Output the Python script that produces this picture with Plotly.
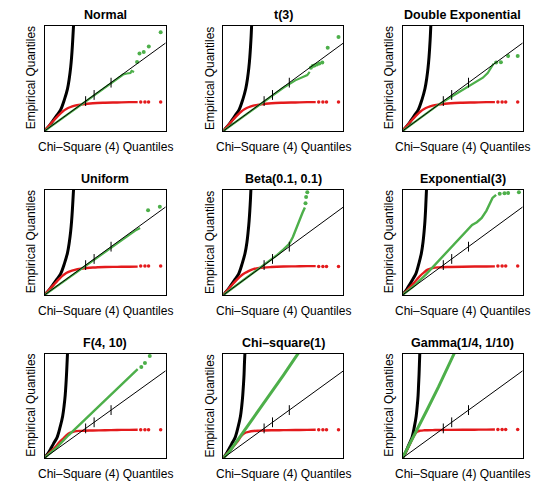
import plotly.graph_objects as go

# ---------------- data (x: Chi-square(4) quantiles, y: empirical quantiles) ----------------
TITLES = ["Normal", "t(3)", "Double Exponential", "Uniform", "Beta(0.1, 0.1)",
          "Exponential(3)", "F(4, 10)", "Chi–square(1)", "Gamma(1/4, 1/10)"]
XLABEL = "Chi–Square (4) Quantiles"
YLABEL = "Empirical Quantiles"

LINE_X = [0, 10.5]
TICK_X = [3.4, 4.1, 5.5]

BLACK_Y = [0, 0.6, 1.2, 1.8, 2.4, 3.6, 4.8, 6.0, 7.2, 8.4, 9.6, 10.8, 12.0, 12.6]
black_normal = [0, 0.4, 0.72, 1.03, 1.33, 1.65, 1.9, 2.05, 2.16, 2.24, 2.3, 2.35, 2.4, 2.42]
black_t3 = [0, 0.39, 0.71, 1.01, 1.31, 1.63, 1.87, 2.02, 2.13, 2.21, 2.27, 2.32, 2.36, 2.38]
black_dexp = [0, 0.39, 0.71, 1.01, 1.31, 1.63, 1.87, 2.02, 2.13, 2.21, 2.27, 2.32, 2.36, 2.38]
black_unif = [0, 0.4, 0.72, 1.03, 1.33, 1.65, 1.9, 2.05, 2.16, 2.24, 2.3, 2.35, 2.4, 2.42]
black_beta = [0, 0.38, 0.69, 0.99, 1.28, 1.58, 1.82, 1.97, 2.07, 2.15, 2.21, 2.26, 2.3, 2.32]
black_exp = [0, 0.33, 0.6, 0.86, 1.11, 1.37, 1.58, 1.71, 1.8, 1.87, 1.92, 1.96, 2.0, 2.02]
black_f = [0, 0.32, 0.57, 0.81, 1.05, 1.3, 1.5, 1.62, 1.71, 1.77, 1.82, 1.86, 1.9, 1.91]
black_chisq = [0, 0.3, 0.54, 0.77, 1.0, 1.24, 1.43, 1.54, 1.62, 1.68, 1.73, 1.76, 1.8, 1.82]
black_gamma = [0, 0.24, 0.43, 0.62, 0.8, 0.99, 1.14, 1.23, 1.3, 1.34, 1.38, 1.41, 1.44, 1.45]

RED_X = [0, 0.3, 0.6, 0.9, 1.2, 1.5, 1.8, 2.1, 2.5, 3.0, 4.0, 5.0, 6.0, 7.0, 7.7]
red_normal = [0, 0.48, 0.96, 1.4, 1.84, 2.22, 2.5, 2.7, 2.88, 3.0, 3.16, 3.22, 3.25, 3.28, 3.29]
red_t3 = [0, 0.48, 0.96, 1.4, 1.84, 2.22, 2.5, 2.7, 2.88, 3.0, 3.16, 3.22, 3.25, 3.28, 3.29]
red_dexp = [0, 0.48, 0.96, 1.4, 1.84, 2.22, 2.5, 2.7, 2.88, 3.0, 3.16, 3.22, 3.25, 3.28, 3.29]
red_unif = [0, 0.46, 0.92, 1.36, 1.8, 2.2, 2.5, 2.7, 2.86, 2.98, 3.12, 3.18, 3.2, 3.22, 3.23]
red_beta = [0, 0.48, 0.96, 1.4, 1.84, 2.22, 2.5, 2.72, 2.94, 3.07, 3.18, 3.24, 3.26, 3.28, 3.29]
red_exp = [0, 0.43, 0.86, 1.3, 1.76, 2.22, 2.58, 2.88, 3.06, 3.14, 3.19, 3.22, 3.24, 3.25, 3.26]
red_f = [0, 0.43, 0.84, 1.26, 1.78, 2.16, 2.58, 2.88, 3.06, 3.12, 3.16, 3.19, 3.22, 3.23, 3.24]
red_chisq = [0, 0.48, 0.9, 1.44, 1.92, 2.52, 2.88, 3.0, 3.1, 3.14, 3.18, 3.2, 3.22, 3.23, 3.24]
red_gamma = [0, 0.72, 1.56, 2.4, 3.0, 3.14, 3.18, 3.19, 3.2, 3.22, 3.23, 3.24, 3.25, 3.26, 3.28]

RED_TAIL_X = [7.95, 8.3, 8.6, 9.6]
RED_TAIL_Y = [3.3, 3.3, 3.3, 3.3, 3.25, 3.3, 3.25, 3.25, 3.28]

# green series: dense part + sparse upper tail
green_normal_x = [0, 1, 2, 3, 4, 5, 6, 6.5, 6.8, 7.1, 7.2, 7.4]
green_normal_y = [0, 1.0, 2.0, 3.0, 4.0, 4.92, 6.0, 6.42, 6.54, 6.6, 6.84, 6.72]
green_normal_tx = [7.65, 7.85, 8.2, 8.62, 9.6]
green_normal_ty = [7.86, 8.82, 9.0, 9.6, 11.23]

green_t3_x = [0, 1, 2, 3, 4, 5, 6, 6.5, 7.0, 7.2]
green_t3_y = [0, 1.0, 2.0, 3.0, 3.96, 4.92, 5.76, 6.06, 6.36, 6.72]
green_t3_tx = [7.3, 7.45, 7.6, 7.8, 8.0, 8.25, 8.7, 9.6]
green_t3_ty = [7.2, 7.38, 7.44, 7.56, 7.68, 7.8, 9.48, 10.68]

green_dexp_x = [0, 1, 2, 3, 4, 5, 5.6, 6.2, 6.7, 7.1, 7.4, 7.6]
green_dexp_y = [0, 1.0, 2.0, 3.0, 3.84, 4.68, 5.16, 5.64, 6.06, 6.6, 7.2, 7.68]
green_dexp_tx = [7.8, 8.2, 8.8, 9.6]
green_dexp_ty = [7.8, 7.82, 8.52, 8.52]

green_unif_x = [0, 2, 4, 5, 6, 7, 7.5, 7.9]
green_unif_y = [0, 1.97, 3.94, 4.92, 5.88, 6.84, 7.32, 7.62]
green_unif_tx = [8.56, 9.53]
green_unif_ty = [9.65, 10.03]

green_beta_x = [0, 1, 2, 3, 4, 4.5, 5, 5.5, 5.8, 6.1, 6.4, 6.6, 6.8]
green_beta_y = [0, 1.0, 2.0, 3.0, 4.02, 4.56, 5.16, 5.82, 6.6, 7.68, 8.76, 9.36, 9.96]
green_beta_tx = [6.85, 6.9, 7.0]
green_beta_ty = [10.44, 11.16, 11.7]

green_exp_x = [0, 1, 2, 3, 4, 5, 5.8, 6.2, 6.6, 7.0, 7.3, 7.5, 7.8]
green_exp_y = [0, 1.08, 2.4, 3.84, 5.28, 6.72, 7.98, 8.28, 8.76, 9.6, 10.44, 11.04, 11.4]
green_exp_tx = [8.1, 8.5, 8.8, 9.7]
green_exp_ty = [11.52, 11.58, 11.6, 11.7]

green_f_x = [0, 1, 2, 3, 4, 5, 6, 7, 7.4, 7.7]
green_f_y = [0, 1.2, 2.64, 3.96, 5.28, 6.6, 7.86, 9.24, 9.78, 10.2]
green_f_tx = [8.0, 8.3, 8.7]
green_f_ty = [10.44, 10.92, 11.7]

green_chisq_x = [0, 0.5, 1, 2, 3, 4, 5, 6, 6.3]
green_chisq_y = [0, 0.72, 1.68, 3.6, 5.52, 7.44, 9.48, 11.52, 12.12]
green_chisq_tx = []
green_chisq_ty = []

green_gamma_x = [0, 1, 2, 3, 4, 4.35]
green_gamma_y = [0, 2.64, 5.4, 8.16, 11.04, 12.12]
green_gamma_tx = []
green_gamma_ty = []

BLACKS = [black_normal, black_t3, black_dexp, black_unif, black_beta, black_exp, black_f, black_chisq, black_gamma]
REDS = [red_normal, red_t3, red_dexp, red_unif, red_beta, red_exp, red_f, red_chisq, red_gamma]
GREENS = [
    (green_normal_x, green_normal_y, green_normal_tx, green_normal_ty),
    (green_t3_x, green_t3_y, green_t3_tx, green_t3_ty),
    (green_dexp_x, green_dexp_y, green_dexp_tx, green_dexp_ty),
    (green_unif_x, green_unif_y, green_unif_tx, green_unif_ty),
    (green_beta_x, green_beta_y, green_beta_tx, green_beta_ty),
    (green_exp_x, green_exp_y, green_exp_tx, green_exp_ty),
    (green_f_x, green_f_y, green_f_tx, green_f_ty),
    (green_chisq_x, green_chisq_y, green_chisq_tx, green_chisq_ty),
    (green_gamma_x, green_gamma_y, green_gamma_tx, green_gamma_ty),
]
GREEN_WIDTH = [2.2, 2.2, 2.2, 2.2, 2.4, 2.4, 2.4, 3.0, 3.0]

# ---------------- layout ----------------
W, H = 534, 483
COL_PX = [(44.5, 165.5), (223.3, 343.3), (402.5, 522.5)]
ROW_PX = [(25.5, 131), (189.5, 295), (353.5, 458)]
RED = "#E41A1C"
GREEN = "#4DAF4A"
FONT = "Liberation Sans, Arial, Helvetica, sans-serif"

fig = go.Figure()
annotations = []
layout = dict(width=W, height=H, margin=dict(l=0, r=0, t=0, b=0),
              paper_bgcolor="white", plot_bgcolor="white", showlegend=False,
              font=dict(family=FONT, color="black"))

for i in range(9):
    r, c = divmod(i, 3)
    sfx = "" if i == 0 else str(i + 1)
    xa, ya = "x" + sfx, "y" + sfx
    x0, x1 = COL_PX[c]
    y0, y1 = ROW_PX[r]
    axis_common = dict(showline=True, mirror=True, linecolor="black", linewidth=1,
                       showticklabels=False, ticks="", showgrid=False, zeroline=False,
                       fixedrange=True)
    layout["xaxis" + sfx] = dict(domain=[x0 / W, x1 / W], range=[0, 10], anchor=ya, **axis_common)
    layout["yaxis" + sfx] = dict(domain=[1 - y1 / H, 1 - y0 / H], range=[0, 12], anchor=xa, **axis_common)

    # black curve
    fig.add_trace(go.Scatter(x=BLACKS[i], y=BLACK_Y, mode="lines", line=dict(color="black", width=3.0),
                             xaxis=xa, yaxis=ya, line_shape="spline"))
    # red
    fig.add_trace(go.Scatter(x=RED_X, y=REDS[i], mode="lines", line=dict(color=RED, width=2.4),
                             xaxis=xa, yaxis=ya, line_shape="spline"))
    fig.add_trace(go.Scatter(x=RED_TAIL_X, y=[RED_TAIL_Y[i]] * len(RED_TAIL_X), mode="markers",
                             marker=dict(color=RED, size=3.5), xaxis=xa, yaxis=ya, cliponaxis=True))
    # green
    gx, gy, gtx, gty = GREENS[i]
    fig.add_trace(go.Scatter(x=gx, y=gy, mode="lines", line=dict(color=GREEN, width=GREEN_WIDTH[i]),
                             xaxis=xa, yaxis=ya))
    if gtx:
        fig.add_trace(go.Scatter(x=gtx, y=gty, mode="markers", marker=dict(color=GREEN, size=4),
                                 xaxis=xa, yaxis=ya, cliponaxis=True))
    # reference line y = x
    fig.add_trace(go.Scatter(x=LINE_X, y=LINE_X, mode="lines", line=dict(color="black", width=1),
                             xaxis=xa, yaxis=ya, hoverinfo="skip"))
    # quartile ticks on the line
    fig.add_trace(go.Scatter(x=TICK_X, y=TICK_X, mode="markers",
                             marker=dict(symbol="line-ns-open", size=7, color="black",
                                         line=dict(color="black", width=1)),
                             xaxis=xa, yaxis=ya, hoverinfo="skip"))

    cx = (x0 + x1) / 2 / W
    cy = 1 - (y0 + y1) / 2 / H
    annotations.append(dict(text="<b>" + TITLES[i] + "</b>", x=cx, y=1 - (y0 - 11) / H,
                            xref="paper", yref="paper", xanchor="center", yanchor="middle",
                            showarrow=False, font=dict(size=12.5, family=FONT, color="black")))
    annotations.append(dict(text=XLABEL, x=cx, y=1 - (y1 + 16) / H,
                            xref="paper", yref="paper", xanchor="center", yanchor="middle",
                            showarrow=False, font=dict(size=12, family=FONT, color="black")))
    annotations.append(dict(text=YLABEL, x=(x0 - 13.5) / W, y=cy, textangle=-90,
                            xref="paper", yref="paper", xanchor="center", yanchor="middle",
                            showarrow=False, font=dict(size=12, family=FONT, color="black")))

layout["annotations"] = annotations
fig.update_layout(**layout)
fig.write_html("out.html")
